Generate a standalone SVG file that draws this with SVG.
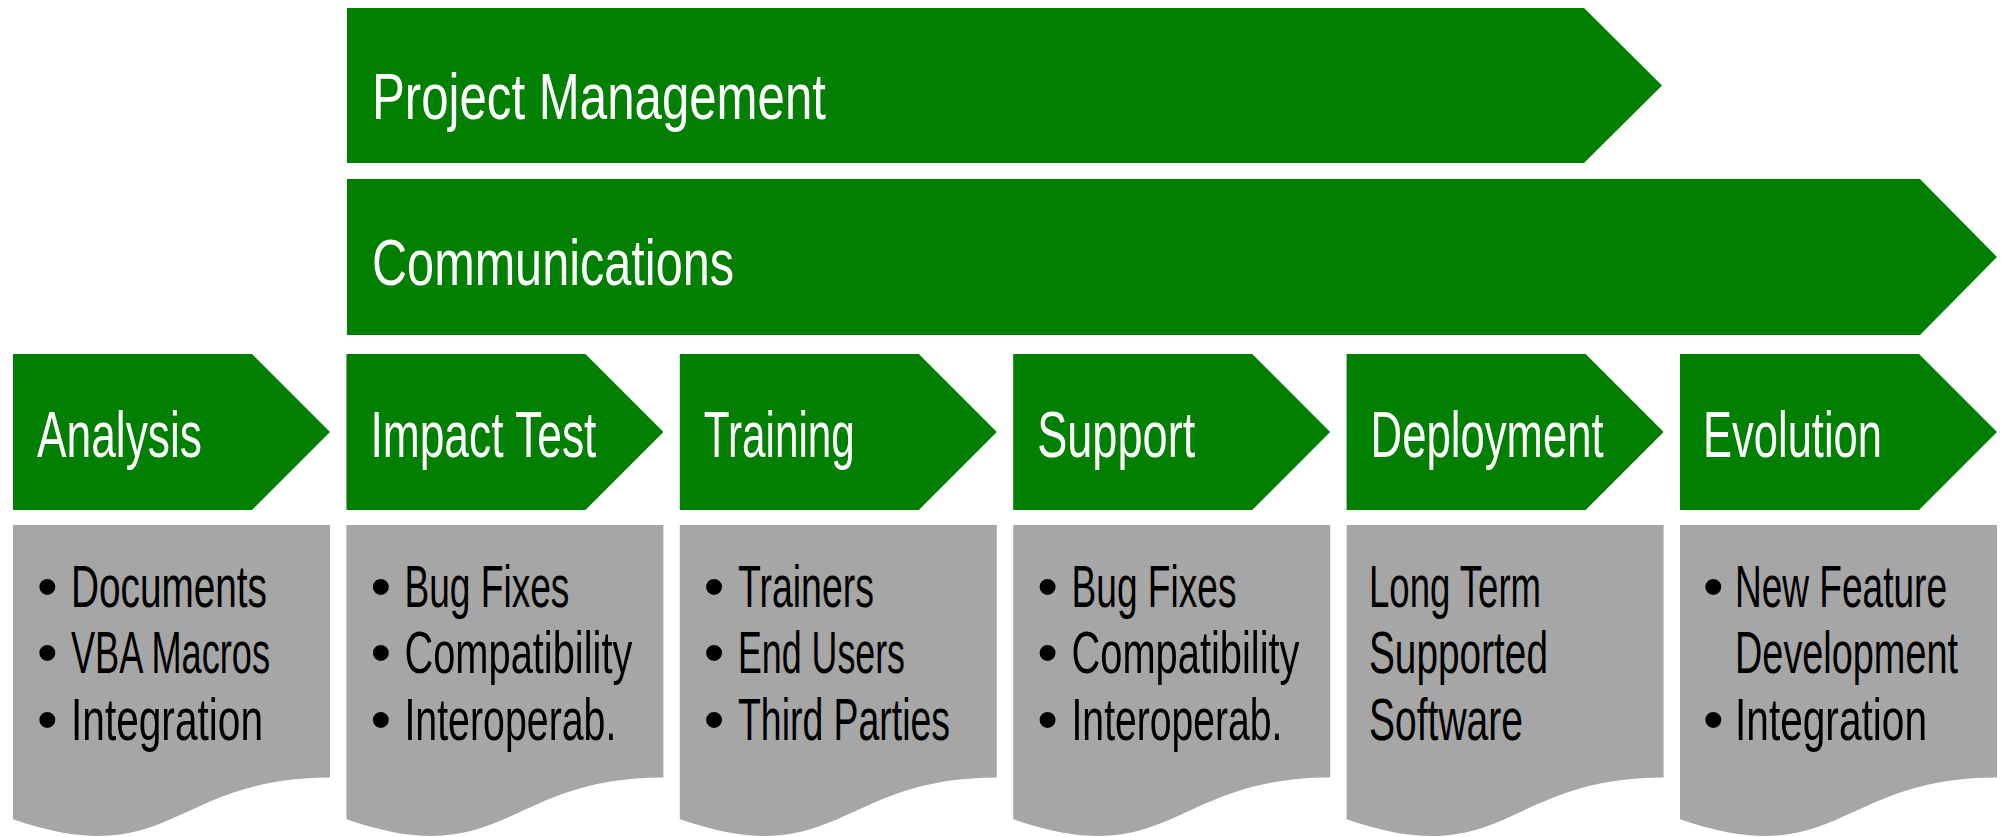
<svg xmlns="http://www.w3.org/2000/svg" xmlns:xlink="http://www.w3.org/1999/xlink" width="2001" height="837" viewBox="0 0 2001 837">
<style>
.g{fill:#007f00}
.doc{fill:#a6a6a6}
.h{font-family:"Liberation Sans Narrow","Liberation Sans",Arial,sans-serif;font-size:64px;fill:#ffffff}
.t{font-family:"Liberation Sans Narrow","Liberation Sans",Arial,sans-serif;font-size:59px;fill:#000000}
.b{font-family:"Liberation Sans",Arial,sans-serif;font-size:59px;fill:#000000}
</style>
<defs>
<path id="chev" d="M0,0 H239 L317,78 L239,156 H0 Z"/>
<path id="docshape" d="M0,0 H317 V252.6 C158.5,252.6 158.5,348.8 0,294.2 Z"/>
</defs>
<rect width="2001" height="837" fill="#ffffff"/>
<g id="project-management">
<path class="g" d="M347,8 H1584 L1662,85.5 L1584,163 H347 Z"/>
<text class="h" x="372" y="119" textLength="454" lengthAdjust="spacingAndGlyphs">Project Management</text>
</g>
<g id="communications">
<path class="g" d="M347,179 H1920 L1997,257 L1920,335 H347 Z"/>
<text class="h" x="372" y="285" textLength="362" lengthAdjust="spacingAndGlyphs">Communications</text>
</g>
<g id="analysis">
<use xlink:href="#chev" href="#chev" class="g" x="13" y="354"/>
<text class="h" x="37" y="457" textLength="165" lengthAdjust="spacingAndGlyphs">Analysis</text>
</g>
<g id="analysis-items">
<use xlink:href="#docshape" href="#docshape" class="doc" x="13" y="525"/>
<text class="b" x="37" y="607">•</text><text class="t" x="71" y="607" textLength="196" lengthAdjust="spacingAndGlyphs">Documents</text>
<text class="b" x="37" y="673">•</text><text class="t" x="71" y="673" textLength="199" lengthAdjust="spacingAndGlyphs">VBA Macros</text>
<text class="b" x="37" y="740">•</text><text class="t" x="71" y="740" textLength="192" lengthAdjust="spacingAndGlyphs">Integration</text>
</g>
<g id="impact-test">
<use xlink:href="#chev" href="#chev" class="g" x="346.4" y="354"/>
<text class="h" x="370.4" y="457" textLength="226" lengthAdjust="spacingAndGlyphs">Impact Test</text>
</g>
<g id="impact-test-items">
<use xlink:href="#docshape" href="#docshape" class="doc" x="346.4" y="525"/>
<text class="b" x="370.4" y="607">•</text><text class="t" x="404.4" y="607" textLength="165" lengthAdjust="spacingAndGlyphs">Bug Fixes</text>
<text class="b" x="370.4" y="673">•</text><text class="t" x="404.4" y="673" textLength="228" lengthAdjust="spacingAndGlyphs">Compatibility</text>
<text class="b" x="370.4" y="740">•</text><text class="t" x="404.4" y="740" textLength="212" lengthAdjust="spacingAndGlyphs">Interoperab.</text>
</g>
<g id="training">
<use xlink:href="#chev" href="#chev" class="g" x="679.8" y="354"/>
<text class="h" x="703.8" y="457" textLength="151" lengthAdjust="spacingAndGlyphs">Training</text>
</g>
<g id="training-items">
<use xlink:href="#docshape" href="#docshape" class="doc" x="679.8" y="525"/>
<text class="b" x="703.8" y="607">•</text><text class="t" x="738" y="607" textLength="136" lengthAdjust="spacingAndGlyphs">Trainers</text>
<text class="b" x="703.8" y="673">•</text><text class="t" x="738" y="673" textLength="167" lengthAdjust="spacingAndGlyphs">End Users</text>
<text class="b" x="703.8" y="740">•</text><text class="t" x="738" y="740" textLength="212" lengthAdjust="spacingAndGlyphs">Third Parties</text>
</g>
<g id="support">
<use xlink:href="#chev" href="#chev" class="g" x="1013.2" y="354"/>
<text class="h" x="1037.2" y="457" textLength="158" lengthAdjust="spacingAndGlyphs">Support</text>
</g>
<g id="support-items">
<use xlink:href="#docshape" href="#docshape" class="doc" x="1013.2" y="525"/>
<text class="b" x="1037.2" y="607">•</text><text class="t" x="1071.5" y="607" textLength="165" lengthAdjust="spacingAndGlyphs">Bug Fixes</text>
<text class="b" x="1037.2" y="673">•</text><text class="t" x="1071.5" y="673" textLength="228" lengthAdjust="spacingAndGlyphs">Compatibility</text>
<text class="b" x="1037.2" y="740">•</text><text class="t" x="1071.5" y="740" textLength="211" lengthAdjust="spacingAndGlyphs">Interoperab.</text>
</g>
<g id="deployment">
<use xlink:href="#chev" href="#chev" class="g" x="1346.6" y="354"/>
<text class="h" x="1370.6" y="457" textLength="233" lengthAdjust="spacingAndGlyphs">Deployment</text>
</g>
<g id="deployment-items">
<use xlink:href="#docshape" href="#docshape" class="doc" x="1346.6" y="525"/>
<text class="t" x="1369" y="607" textLength="172" lengthAdjust="spacingAndGlyphs">Long Term</text>
<text class="t" x="1369" y="673" textLength="179" lengthAdjust="spacingAndGlyphs">Supported</text>
<text class="t" x="1369" y="740" textLength="154" lengthAdjust="spacingAndGlyphs">Software</text>
</g>
<g id="evolution">
<use xlink:href="#chev" href="#chev" class="g" x="1680" y="354"/>
<text class="h" x="1703" y="457" textLength="179" lengthAdjust="spacingAndGlyphs">Evolution</text>
</g>
<g id="evolution-items">
<use xlink:href="#docshape" href="#docshape" class="doc" x="1680" y="525"/>
<text class="b" x="1703" y="607">•</text><text class="t" x="1735" y="607" textLength="212" lengthAdjust="spacingAndGlyphs">New Feature</text>
<text class="t" x="1735" y="673" textLength="223" lengthAdjust="spacingAndGlyphs">Development</text>
<text class="b" x="1703" y="740">•</text><text class="t" x="1735" y="740" textLength="192" lengthAdjust="spacingAndGlyphs">Integration</text>
</g>
<g id="connectors"/>
</svg>
